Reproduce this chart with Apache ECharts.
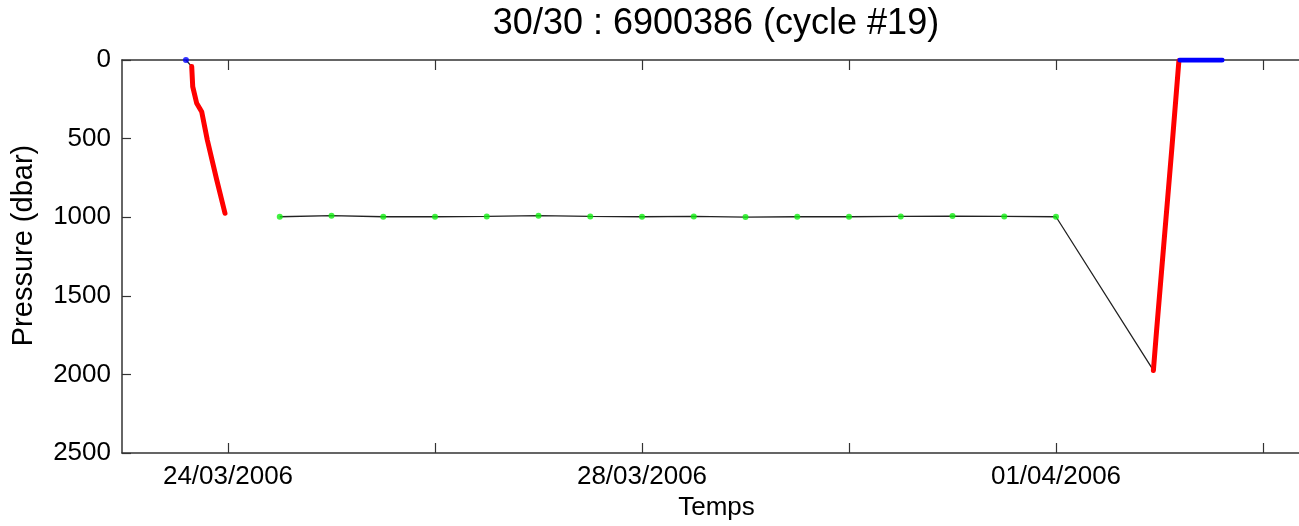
<!DOCTYPE html>
<html><head><meta charset="utf-8">
<script src="https://cdn.jsdelivr.net/npm/echarts@6/dist/echarts.min.js"></script>
<style>html,body{margin:0;padding:0;background:#fff}#c{width:1299px;height:526px}</style>
</head><body><div id="c"></div>
<script>
const titleText = '30/30 : 6900386 (cycle #19)';
const xName = 'Temps';
const yName = 'Pressure (dbar)';
const tickDates = ['2006-03-24','2006-03-26','2006-03-28','2006-03-30','2006-04-01','2006-04-03'];
const labelDates = ['2006-03-24','2006-03-28','2006-04-01'];
const xRange = ['2006-03-22T23:25','2006-04-03T08:21'];
const yRange = [0, 2500];
const yStep = 500;

const surfaceBeforeTimes = ['2006-03-23T14:15'];
const surfaceBeforePres = [0];
const descentTimes = ['2006-03-23T15:35','2006-03-23T15:49','2006-03-23T16:44','2006-03-23T17:54','2006-03-23T19:12','2006-03-23T21:23','2006-03-23T23:18'];
const descentPres = [42,169,275,329,509,763,975];
const parkTimes = ['2006-03-24T12:00','2006-03-25T00:00','2006-03-25T12:00','2006-03-26T00:00','2006-03-26T12:00','2006-03-27T00:00','2006-03-27T12:00','2006-03-28T00:00','2006-03-28T12:00','2006-03-29T00:00','2006-03-29T12:00','2006-03-30T00:00','2006-03-30T12:00','2006-03-31T00:00','2006-03-31T12:00','2006-04-01T00:00'];
const parkPres = [997,990,997,997,995,990,995,997,995,999,997,997,995,993,995,997];
const ascentTimes = ['2006-04-01T22:35','2006-04-01T23:20','2006-04-02T02:50','2006-04-02T04:30'];
const ascentPres = [1975,1718,573,5];
const surfaceAfterTimes = ['2006-04-02T04:45','2006-04-02T06:00','2006-04-02T07:30','2006-04-02T09:00','2006-04-02T10:30','2006-04-02T12:00','2006-04-02T13:30','2006-04-02T14:30'];
const surfaceAfterPres = [0,0,0,0,0,0,0,0];

function toMs(s){
  const parts = s.split('T');
  const [Y,M,D] = parts[0].split('-').map(Number);
  const [h,m] = (parts[1] || '00:00').split(':').map(Number);
  return Date.UTC(Y, M-1, D, h, m);
}
function pad(n){ return (n<10?'0':'')+n; }
function fmt(v){
  const d = new Date(v);
  return pad(d.getUTCDate()) + '/' + pad(d.getUTCMonth()+1) + '/' + d.getUTCFullYear();
}
function pairs(ts, ps){ return ts.map((t,i)=>[toMs(t), ps[i]]); }

const FONT = "'Liberation Sans', Arial, Helvetica, sans-serif";
const AXC = '#333';
const tickVals = tickDates.map(toMs);
const labelVals = labelDates.map(toMs);

const blackA = pairs(surfaceBeforeTimes, surfaceBeforePres).concat(pairs(descentTimes.slice(0,1), descentPres.slice(0,1)));
const blackB = pairs(parkTimes, parkPres).concat(pairs(ascentTimes.slice(0,1), ascentPres.slice(0,1)));

const chart = echarts.init(document.getElementById('c'), null, {renderer:'canvas'});
chart.setOption({
  animation: false,
  backgroundColor: '#fff',
  title: {
    text: titleText, left: 716, top: 6, textAlign: 'center', padding: 0,
    textStyle: {fontFamily: FONT, fontSize: 36, fontWeight: 'normal', color: '#000', lineHeight: 36}
  },
  grid: {left: 122, top: 60, right: 0, bottom: 73, containLabel: false},
  xAxis: [{
    type: 'value', position: 'bottom', min: toMs(xRange[0]), max: toMs(xRange[1]),
    axisLine: {show: true, onZero: false, lineStyle: {color: AXC, width: 1.5}},
    axisTick: {show: true, inside: true, length: 10, customValues: tickVals, lineStyle: {color: AXC, width: 1.2}},
    axisLabel: {show: true, customValues: labelVals, formatter: fmt, fontFamily: FONT, fontSize: 26, color: '#000', margin: 11, lineHeight: 26},
    splitLine: {show: false},
    name: xName, nameLocation: 'middle', nameGap: 42,
    nameTextStyle: {fontFamily: FONT, fontSize: 26, color: '#000', lineHeight: 26, padding: [0, 0, 0, 12]}
  }, {
    type: 'value', position: 'top', min: toMs(xRange[0]), max: toMs(xRange[1]),
    axisLine: {show: true, onZero: false, lineStyle: {color: AXC, width: 1.5}},
    axisTick: {show: true, inside: true, length: 10, customValues: tickVals, lineStyle: {color: AXC, width: 1.2}},
    axisLabel: {show: false}, splitLine: {show: false}
  }],
  yAxis: [{
    type: 'value', inverse: true, min: yRange[0], max: yRange[1], interval: yStep,
    axisLine: {show: true, onZero: false, lineStyle: {color: AXC, width: 1.5}},
    axisTick: {show: true, inside: true, length: 9, lineStyle: {color: AXC, width: 1.2}},
    axisLabel: {fontFamily: FONT, fontSize: 26, color: '#000', margin: 11, formatter: v => String(v)},
    splitLine: {show: false},
    name: yName, nameLocation: 'middle', nameGap: 84, nameRotate: 90,
    nameTextStyle: {fontFamily: FONT, fontSize: 29, color: '#000', lineHeight: 29, padding: [0, 0, 0, 22]}
  }],
  series: [
    {type: 'line', data: blackA, showSymbol: false, symbol: 'none', lineStyle: {color: '#222', width: 1.3}, z: 1},
    {type: 'line', data: blackB, showSymbol: false, symbol: 'none', lineStyle: {color: '#222', width: 1.3}, z: 1},
    {type: 'scatter', data: pairs(parkTimes, parkPres), symbol: 'circle', symbolSize: 6, itemStyle: {color: '#11ee11'}, z: 3},
    {type: 'line', data: pairs(descentTimes, descentPres), showSymbol: false, symbol: 'none', lineStyle: {color: '#ff0000', width: 5, cap: 'round', join: 'round'}, z: 2},
    {type: 'line', data: pairs(ascentTimes, ascentPres), showSymbol: false, symbol: 'none', lineStyle: {color: '#ff0000', width: 5, cap: 'round', join: 'round'}, z: 2},
    {type: 'scatter', data: pairs(surfaceBeforeTimes, surfaceBeforePres), symbol: 'circle', symbolSize: 6, itemStyle: {color: '#0000ff'}, z: 4},
    {type: 'line', data: pairs(surfaceAfterTimes, surfaceAfterPres), showSymbol: false, symbol: 'none', lineStyle: {color: '#0000ff', width: 5, cap: 'round', join: 'round'}, z: 4}
  ]
});
</script></body></html>
